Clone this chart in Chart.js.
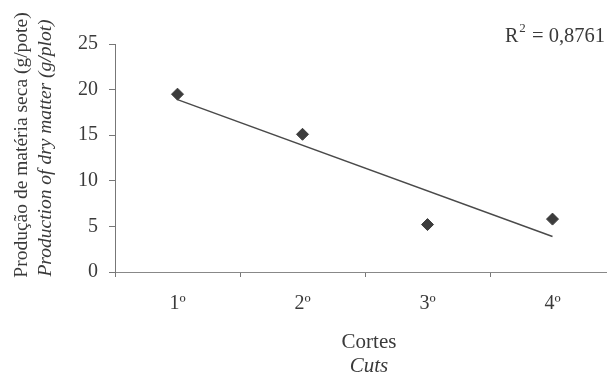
<!DOCTYPE html>
<html>
<head>
<meta charset="utf-8">
<script src="https://cdn.jsdelivr.net/npm/chart.js@4.4.1/dist/chart.umd.min.js"></script>
<style>
html,body{margin:0;padding:0;background:#fff;overflow:hidden;}
#wrap{width:625px;height:375px;}
</style>
</head>
<body>
<div id="wrap"><canvas id="c" width="625" height="375"></canvas></div>
<script>
const categories = ['1º', '2º', '3º', '4º'];
const dryMatter = [19.5, 15.1, 5.2, 5.8];
const trendValues = [18.9, null, null, 3.9];
const yTicks = [0, 5, 10, 15, 20, 25];
const yTitleLines = ['Produção de matéria seca (g/pote)', 'Production of dry matter (g/plot)'];
const xTitleLines = ['Cortes', 'Cuts'];
const r2Text = '0,8761';

const TEXT = '#3a3a3a';
const SERIF = '"Liberation Serif", "DejaVu Serif", serif';

const titlesPlugin = {
  id: 'titles',
  afterDraw(chart) {
    const ctx = chart.ctx;
    ctx.save();
    ctx.fillStyle = TEXT;
    ctx.textAlign = 'center';
    ctx.textBaseline = 'middle';
    ctx.save();
    ctx.translate(22, 145);
    ctx.rotate(-Math.PI / 2);
    ctx.font = '19.5px ' + SERIF;
    ctx.fillText(yTitleLines[0], 0, 0);
    ctx.restore();
    ctx.save();
    ctx.translate(46, 148);
    ctx.rotate(-Math.PI / 2);
    ctx.font = 'italic 19.5px ' + SERIF;
    ctx.fillText(yTitleLines[1], 0, 0);
    ctx.restore();
    const cx = 369;
    ctx.font = '21px ' + SERIF;
    ctx.fillText(xTitleLines[0], cx, 342);
    ctx.font = 'italic 21px ' + SERIF;
    ctx.fillText(xTitleLines[1], cx, 366);
    ctx.textAlign = 'left';
    ctx.textBaseline = 'alphabetic';
    let x = 505;
    const base = 42;
    ctx.font = '20px ' + SERIF;
    ctx.fillText('R', x, base);
    x += ctx.measureText('R').width;
    ctx.font = '13px ' + SERIF;
    ctx.fillText('2', x + 1, base - 10);
    x += ctx.measureText('2').width + 2;
    ctx.font = '20.5px ' + SERIF;
    ctx.fillText(' = ' + r2Text, x, base);
    ctx.restore();
  }
};

new Chart(document.getElementById('c'), {
  type: 'line',
  data: {
    labels: categories,
    datasets: [
      {
        label: 'Dry matter',
        data: dryMatter,
        showLine: false,
        pointStyle: 'rectRot',
        pointRadius: 6,
        pointBackgroundColor: '#3c3c3c',
        pointBorderColor: '#3c3c3c',
        pointBorderWidth: 1,
        order: 0
      },
      {
        label: 'Trend',
        data: trendValues,
        spanGaps: true,
        borderColor: '#4a4a4a',
        borderWidth: 1.5,
        pointRadius: 0,
        fill: false,
        order: 1
      }
    ]
  },
  options: {
    responsive: false,
    animation: false,
    layout: { padding: { left: 0, right: 10, top: 44, bottom: 0 } },
    plugins: { legend: { display: false }, tooltip: { enabled: false }, title: { display: false } },
    scales: {
      x: {
        offset: true,
        grid: { offset: true, drawOnChartArea: false, drawTicks: true, tickLength: 5, color: '#777' },
        border: { color: '#888', width: 1 },
        ticks: { color: TEXT, font: { family: SERIF, size: 20 }, padding: 15 },
        afterFit(scale) { scale.height = 103; }
      },
      y: {
        min: 0,
        max: 25,
        afterBuildTicks(scale) { scale.ticks = yTicks.map(v => ({ value: v })); },
        grid: { drawOnChartArea: false, drawTicks: true, tickLength: 6, color: '#777' },
        border: { color: '#777', width: 1 },
        ticks: { color: TEXT, font: { family: SERIF, size: 20 }, padding: 11 },
        afterFit(scale) { scale.width = 115; }
      }
    }
  },
  plugins: [titlesPlugin]
});
</script>
</body>
</html>
